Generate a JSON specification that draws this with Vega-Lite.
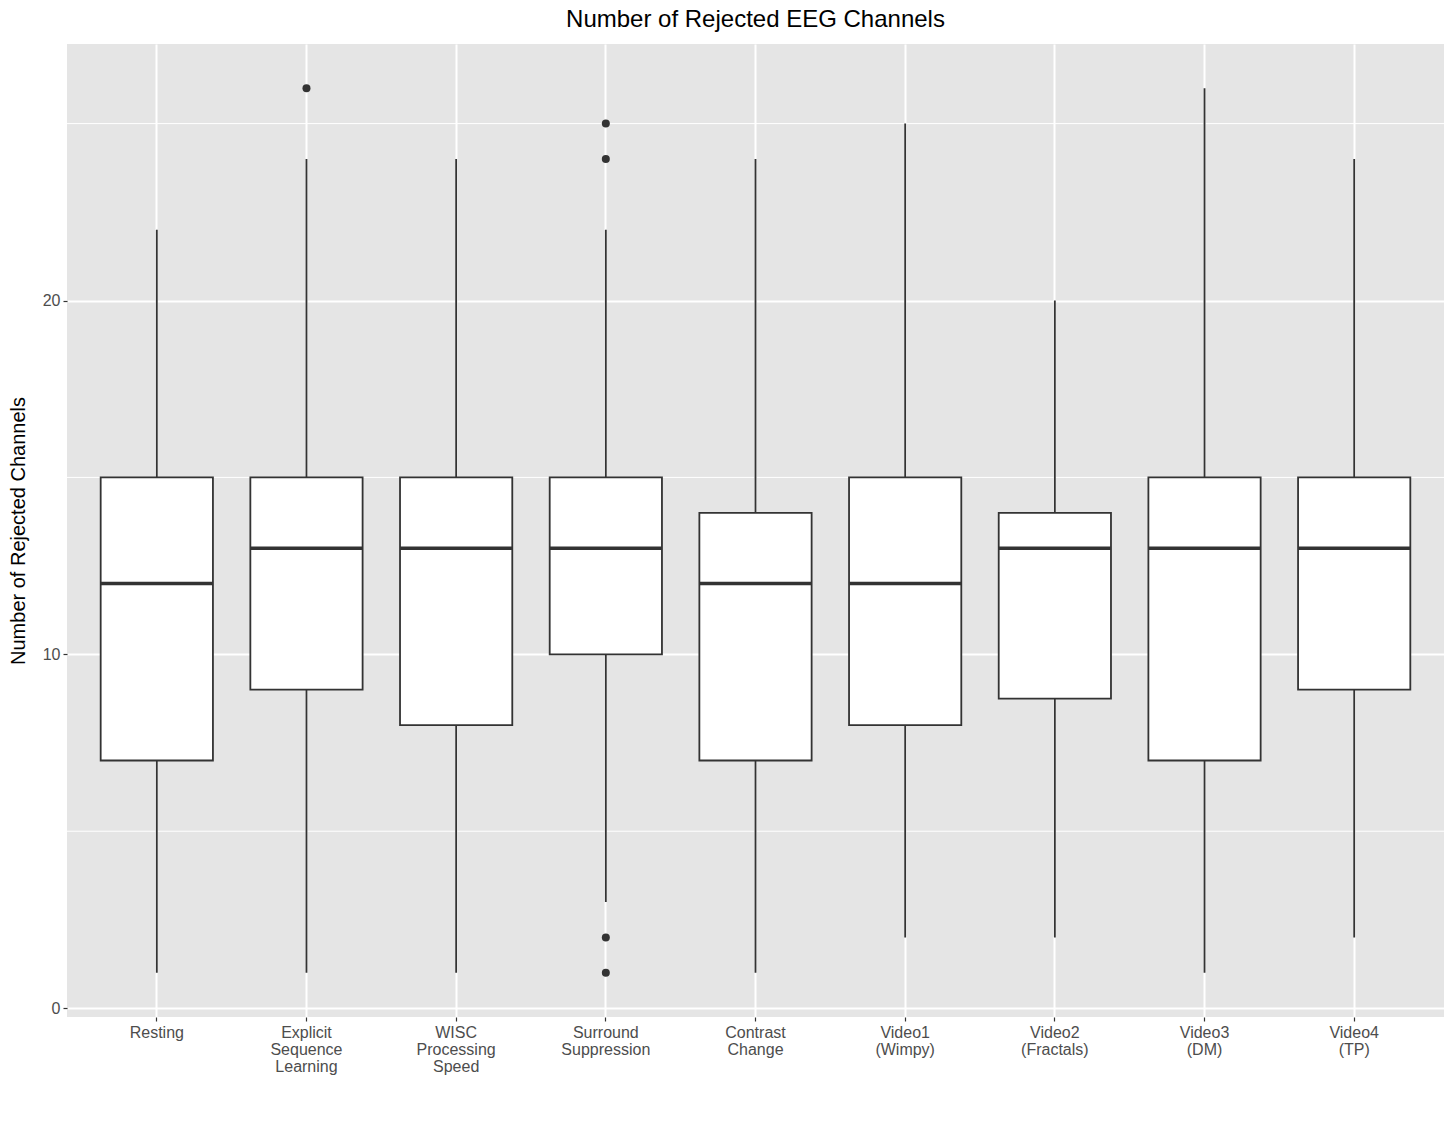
{
  "$schema": "https://vega.github.io/schema/vega-lite/v6.json",
  "autosize": {"type": "none"},
  "width": 1377,
  "height": 973,
  "padding": {"left": 67, "top": 44, "right": 12, "bottom": 108},
  "background": "white",
  "config": {
    "font": "Liberation Sans",
    "view": {"fill": "#E5E5E5", "stroke": null},
    "title": {"fontSize": 24, "fontWeight": "normal", "color": "#000000", "offset": 12},
    "axis": {"labelFont": "Liberation Sans", "titleFont": "Liberation Sans"}
  },
  "title": {"text": "Number of Rejected EEG Channels", "anchor": "middle"},
  "datasets": {
    "boxes": [
      {"task": "Resting", "lo": 1, "q1": 7, "med": 12, "q3": 15, "hi": 22},
      {"task": "Explicit|Sequence|Learning", "lo": 1, "q1": 9, "med": 13, "q3": 15, "hi": 24},
      {"task": "WISC|Processing|Speed", "lo": 1, "q1": 8, "med": 13, "q3": 15, "hi": 24},
      {"task": "Surround|Suppression", "lo": 3, "q1": 10, "med": 13, "q3": 15, "hi": 22},
      {"task": "Contrast|Change", "lo": 1, "q1": 7, "med": 12, "q3": 14, "hi": 24},
      {"task": "Video1|(Wimpy)", "lo": 2, "q1": 8, "med": 12, "q3": 15, "hi": 25},
      {"task": "Video2|(Fractals)", "lo": 2, "q1": 8.75, "med": 13, "q3": 14, "hi": 20},
      {"task": "Video3|(DM)", "lo": 1, "q1": 7, "med": 13, "q3": 15, "hi": 26},
      {"task": "Video4|(TP)", "lo": 2, "q1": 9, "med": 13, "q3": 15, "hi": 24}
    ],
    "outliers": [
      {"task": "Explicit|Sequence|Learning", "value": 26},
      {"task": "Surround|Suppression", "value": 25},
      {"task": "Surround|Suppression", "value": 24},
      {"task": "Surround|Suppression", "value": 2},
      {"task": "Surround|Suppression", "value": 1}
    ],
    "minor": [{"v": 5}, {"v": 15}, {"v": 25}]
  },
  "layer": [
    {
      "data": {"name": "minor"},
      "mark": {"type": "rule", "color": "white", "strokeWidth": 1},
      "encoding": {
        "y": {
          "field": "v", "type": "quantitative",
          "scale": {"domain": [-0.25, 27.25], "nice": false, "zero": false},
          "axis": {
            "title": "Number of Rejected Channels", "titleFontSize": 20, "titleFontWeight": "normal",
            "titleColor": "#000000", "titlePadding": 14,
            "values": [0, 10, 20], "grid": true, "gridColor": "white", "gridWidth": 2,
            "domain": false, "tickColor": "#333333", "tickSize": 4, "tickWidth": 1.2,
            "labelColor": "#4D4D4D", "labelFontSize": 16, "labelPadding": 3
          }
        }
      }
    },
    {
      "data": {"name": "boxes"},
      "mark": {"type": "rule", "color": "#333333", "strokeWidth": 1.8},
      "encoding": {
        "x": {
          "field": "task", "type": "nominal", "sort": null,
          "scale": {"type": "band", "paddingInner": 0, "paddingOuter": 0.1},
          "axis": {
            "title": null, "labelAngle": 0, "bandPosition": 0.5,
            "grid": true, "gridColor": "white", "gridWidth": 2,
            "domain": false, "tickColor": "#333333", "tickSize": 4, "tickWidth": 1.2,
            "labelColor": "#4D4D4D", "labelFontSize": 16, "labelLineHeight": 17,
            "labelPadding": 3, "labelBaseline": "top",
            "labelExpr": "split(datum.label, '|')"
          }
        },
        "y": {"field": "lo", "type": "quantitative"},
        "y2": {"field": "hi"}
      }
    },
    {
      "data": {"name": "boxes"},
      "mark": {"type": "bar", "fill": "white", "stroke": "#333333", "strokeWidth": 1.8, "width": {"band": 0.75}},
      "encoding": {
        "x": {"field": "task", "type": "nominal", "sort": null},
        "y": {"field": "q1", "type": "quantitative"},
        "y2": {"field": "q3"}
      }
    },
    {
      "data": {"name": "boxes"},
      "mark": {"type": "tick", "color": "#333333", "thickness": 3.4, "size": 112, "opacity": 1},
      "encoding": {
        "x": {"field": "task", "type": "nominal", "sort": null},
        "y": {"field": "med", "type": "quantitative"}
      }
    },
    {
      "data": {"name": "outliers"},
      "mark": {"type": "circle", "color": "#333333", "size": 64, "opacity": 1},
      "encoding": {
        "x": {"field": "task", "type": "nominal", "sort": null},
        "y": {"field": "value", "type": "quantitative"}
      }
    }
  ]
}
